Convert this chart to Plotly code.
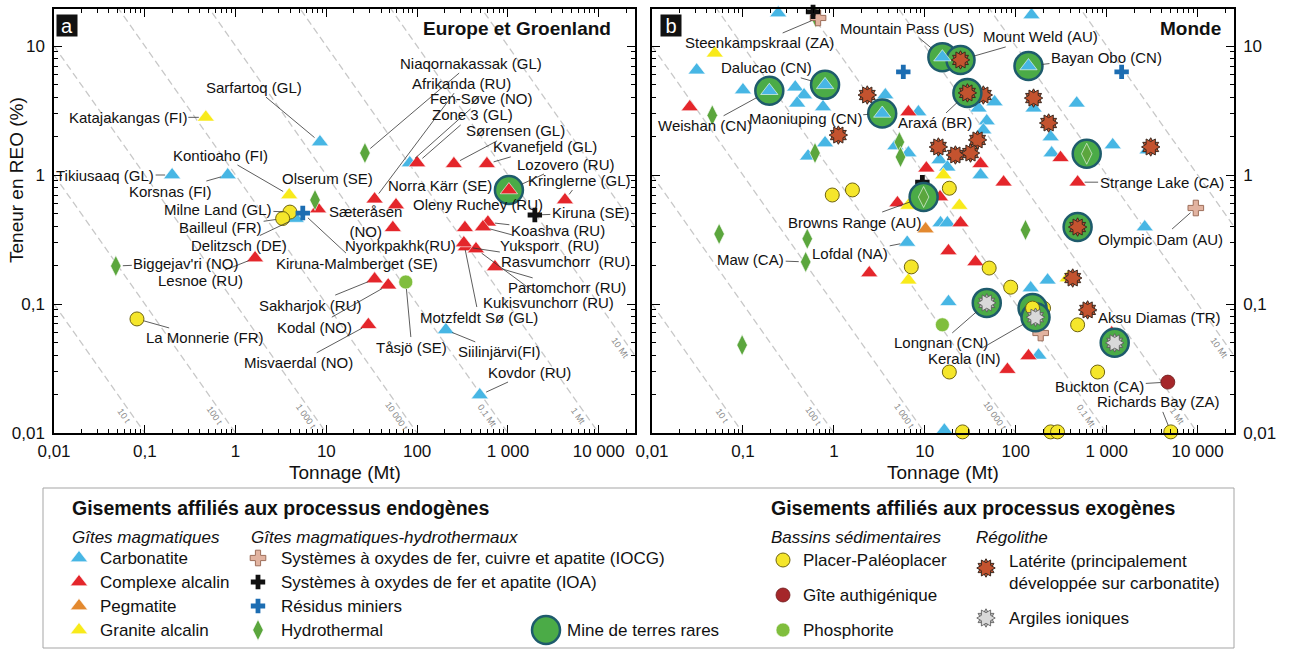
import numpy as np
import plotly.graph_objects as go

W, H = 1291, 649
FONT = 'Arial, "Liberation Sans", sans-serif'

# ---------------- Europe et Groenland (panel a) ----------------
eu_name = [
    # carbonatite
    'Sarfartoq (GL)', 'Tikiusaaq (GL)', 'Korsnas (FI)', 'Delitzsch (DE)', 'Fen-Søve (NO)',
    'Siilinjärvi(FI)', 'Kovdor (RU)',
    # complexe alcalin
    'Sæteråsen<br>(NO)', 'Afrikanda (RU)', 'Zone 3 (GL)', 'Sørensen (GL)', 'Kvanefjeld (GL)',
    'Kringlerne (GL)', 'Norra Kärr (SE)', 'Nyorkpakhk(RU)', 'Oleny Ruchey (RU)', 'Koashva (RU)',
    'Yuksporr  (RU)', 'Rasvumchorr  (RU)', 'Motzfeldt Sø (GL)', 'Kukisvunchorr (RU)',
    'Partomchorr (RU)', 'Sakharjok (RU)', 'Kodal (NO)', 'Misvaerdal (NO)', 'Lesnoe (RU)',
    # granite alcalin
    'Katajakangas (FI)', 'Kontioaho (FI)',
    # IOA, residus
    'Kiruna (SE)', 'Kiruna-Malmberget (SE)',
    # hydrothermal
    'Olserum (SE)', 'Niaqornakassak (GL)', "Biggejav'ri (NO)",
    # placer, phosphorite
    'Milne Land (GL)', 'Bailleul (FR)', 'La Monnerie (FR)', 'Tåsjö (SE)',
]
eu_tonnage = [
    8.5, 0.2, 0.82, 4.6, 83, 207, 490,
    8.1, 34, 100, 254, 587, 4250, 58.5, 54, 336, 602, 531, 344, 327, 445, 720, 34, 48, 29, 1.64,
    0.47, 3.9,
    1980, 5.5,
    7.5, 26.6, 0.048,
    3.97, 3.3, 0.082, 75,
]
eu_grade = [
    1.8, 1.0, 1.0, 0.46, 1.24, 0.063, 0.0197,
    0.545, 0.65, 1.24, 1.22, 1.22, 0.64, 0.585, 0.39, 0.39, 0.43, 0.395, 0.277, 0.297, 0.267,
    0.194, 0.156, 0.14, 0.069, 0.227,
    2.8, 0.70,
    0.49, 0.507,
    0.64, 1.48, 0.197,
    0.516, 0.46, 0.0766, 0.148,
]
eu_kind = (['carb'] * 7 + ['alk'] * 19 + ['gran'] * 2 + ['ioa', 'tail'] + ['hydro'] * 3
           + ['placer'] * 3 + ['phos'])

eu_mine_name = ['Lozovero (RU)']
eu_mine_tonnage = [1026]
eu_mine_grade = [0.765]
eu_mine_kind = ['alk']

# ---------------- Monde (panel b) ----------------
w_tonnage = [
    # carbonatite (36)
    0.244, 149, 0.031, 0.10, 0.376, 0.47, 0.395, 0.76, 3.68, 8.5,
    0.80, 0.52, 6.6, 4.74, 58.5, 39, 48, 44, 14.5, 17.7,
    41, 157, 468, 242, 248, 1165, 2820, 14.9, 17.7, 6.4,
    18.2, 2620, 146, 224, 178, 16.4,
    # complexe alcalin (16)
    0.026, 6.6, 10.4, 41, 73.5, 311, 479, 14.7, 5.0, 24.7, 18.2, 36, 2.45, 138, 81, 1135,
    # pegmatite (1)
    10.2,
    # granite alcalin (6)
    0.049, 16, 6.6, 24, 6.6, 372,
    # IOCG (3), IOA (2), residus (2)
    0.67, 9550, 188,
    0.59, 9.4,
    5.8, 1460,
    # hydrothermal (10)
    0.046, 0.62, 5.25, 5.4, 0.0547, 0.51, 0.49, 0.098, 128, 0.63,
    # placer (14)
    0.96, 1.6, 18.6, 7.1, 18.6, 26, 51, 88, 202, 479, 795, 5070, 242, 288,
    # authigenique (1), phosphorite (1)
    4700,
    15.6,
    # laterite (12)
    2.33, 1.12, 44, 157, 230, 38, 14.1, 21.7, 31.8, 3050, 423, 617,
]
w_grade = [
    18.0, 17.4, 6.5, 4.56, 4.8, 4.17, 3.6, 3.37, 4.17, 3.08,
    1.77, 1.40, 1.48, 1.68, 3.68, 3.3, 2.62, 2.23, 1.31, 1.15,
    1.0, 3.3, 3.6, 1.97, 1.48, 1.71, 1.56, 0.425, 0.425, 0.30,
    0.104, 0.395, 0.133, 0.153, 0.040, 0.0105,
    3.37, 3.08, 1.13, 1.22, 0.88, 1.36, 0.88, 0.675, 0.607, 0.425, 0.258, 0.212, 0.174, 0.0396,
    0.031, 0.0596,
    0.381,
    8.8, 1.0, 0.58, 0.58, 0.153, 0.159,
    16.5, 0.555, 0.0596,
    18.4, 0.88,
    6.3, 6.3,
    2.9, 1.48, 1.8, 1.38, 0.349, 0.32, 0.212, 0.048, 0.375, 16.8,
    0.70, 0.766, 0.79, 0.194, 0.0297, 0.0102, 0.19, 0.135, 0.093, 0.069, 0.0297, 0.0102, 0.0102,
    0.0102,
    0.0248,
    0.069,
    4.17, 2.04, 4.17, 3.95, 2.53, 1.87, 1.65, 1.43, 1.48, 1.65, 0.159, 0.09,
]
w_kind = (['carb'] * 36 + ['alk'] * 16 + ['peg'] + ['gran'] * 6 + ['iocg'] * 3 + ['ioa'] * 2
          + ['tail'] * 2 + ['hydro'] * 10 + ['placer'] * 14 + ['auth'] + ['phos'] + ['lat'] * 12)
w_name = ([''] * 29 + ['Lofdal (NA)'] + [''] * 6
          + [''] * 6 + ['Strange Lake (CA)'] + [''] * 9
          + [''] + [''] * 6
          + ['Steenkampskraal (ZA)', 'Olympic Dam (AU)', ''] + [''] * 2 + [''] * 2
          + [''] * 6 + ['Maw (CA)'] + [''] * 3
          + [''] * 11 + ['Richards Bay (ZA)'] + [''] * 2
          + ['Buckton (CA)'] + ['']
          + [''] * 11 + ['Aksu Diamas (TR)'])

w_mine_name = ['Weishan (CN)', 'Dalucao (CN)', 'Maoniuping (CN)', 'Mountain Pass (US)',
               'Bayan Obo (CN)', 'Mount Weld (AU)', 'Araxá (BR)', '', 'Browns Range (AU)', '',
               '', 'Longnan (CN)', 'Kerala (IN)', '']
w_mine_tonnage = [0.195, 0.80, 3.4, 15.6, 138, 24.7, 29.4, 479, 9.7, 603, 153, 48, 165, 1225]
w_mine_grade = [4.5, 5.0, 3.0, 8.2, 7.0, 7.8, 4.33, 0.395, 0.675, 1.46, 0.093, 0.102, 0.079, 0.05]
w_mine_kind = ['carb'] * 5 + ['lat'] * 3 + ['hydro'] * 2 + ['placer'] + ['clay'] * 3

# iso-content lines (contained REO, t)
iso_content = [10, 100, 1e3, 1e4, 1e5, 1e6, 1e7, 1e8]
iso_text = ['10 t', '100 t', '1 000 t', '10 000 t', '0,1 Mt', '1 Mt', '10 Mt', '']

x_ticks = [0.01, 0.1, 1, 10, 100, 1000, 10000]
x_ticktext = ['0,01', '0,1', '1', '10', '100', '1 000', '10 000']
y_ticks = [0.01, 0.1, 1, 10]
y_ticktext = ['0,01', '0,1', '1', '10']

assert len(w_tonnage) == len(w_grade) == len(w_kind) == len(w_name)
assert len(eu_tonnage) == len(eu_grade) == len(eu_kind) == len(eu_name)

# ---------------- styles ----------------
TRI = dict(symbol='triangle-up', size=15, line=dict(width=0.6, color='white'))
STYLE = {
    'carb': [dict(TRI, color='#47b6e4')],
    'alk': [dict(TRI, color='#e4262b')],
    'peg': [dict(TRI, color='#e3892f')],
    'gran': [dict(TRI, color='#f8ea1a')],
    'hydro': [dict(symbol='diamond-tall', size=15, color='#5ba63d', line=dict(width=0.6, color='white'))],
    'placer': [dict(symbol='circle', size=14, color='#f5e62b', line=dict(width=1, color='#6f6410'))],
    'auth': [dict(symbol='circle', size=14, color='#a5272a', line=dict(width=0.8, color='#6d1a1c'))],
    'phos': [dict(symbol='circle', size=14, color='#80be3d', line=dict(width=0.6, color='white'))],
    'lat': [dict(symbol='hexagram', size=14, angle=0, color='#c4532f', line=dict(width=1, color='#3b2a20')),
            dict(symbol='hexagram', size=14, angle=30, color='#c4532f', line=dict(width=1, color='#3b2a20'))],
    'clay': [dict(symbol='hexagram', size=14, angle=0, color='#b9b9b9', line=dict(width=0.8, color='#555555')),
             dict(symbol='hexagram', size=14, angle=30, color='#d9d9d9', line=dict(width=0.8, color='#555555'))],
    'iocg': [dict(symbol='cross', size=13, color='#e2b3a0', line=dict(width=1, color='#9d6e5a'))],
    'ioa': [dict(symbol='cross', size=12, color='#111111', line=dict(width=0))],
    'tail': [dict(symbol='cross', size=12, color='#1c6db2', line=dict(width=0))],
}
ORDER = ['carb', 'alk', 'peg', 'gran', 'hydro', 'placer', 'auth', 'phos', 'lat', 'clay',
         'iocg', 'ioa', 'tail']
MINE = dict(symbol='circle', size=28, color='#4bab47', line=dict(width=2.5, color='#1e5b6c'))

# label offsets: text centre relative to point (px), arrow flag
eu_offset = {
    'Katajakangas (FI)': (-78, 0, True), 'Sarfartoq (GL)': (-66, -55, True),
    'Tikiusaaq (GL)': (-67, 0, True), 'Kontioaho (FI)': (-69, -40, True),
    'Korsnas (FI)': (-57, 16, True), 'Olserum (SE)': (12, -22, False),
    'Sæteråsen<br>(NO)': (47, 12, False), 'Milne Land (GL)': (-72, -3, True),
    'Bailleul (FR)': (-62, 9, True), 'Delitzsch (DE)': (-57, 27, True),
    'Kiruna-Malmberget (SE)': (54, 50, True), 'Niaqornakassak (GL)': (106, -90, True),
    'Afrikanda (RU)': (87, -116, True), 'Fen-Søve (NO)': (72, -64, True),
    'Zone 3 (GL)': (55, -48, True), 'Sørensen (GL)': (62, -33, True),
    'Kvanefjeld (GL)': (58, -17, True), 'Lozovero (RU)': (57, -26, True),
    'Kringlerne (GL)': (15, -20, True), 'Norra Kärr (SE)': (44, -20, False),
    'Nyorkpakhk(RU)': (8, 18, False), 'Oleny Ruchey (RU)': (13, -23, False),
    'Koashva (RU)': (70, 8, True), 'Yuksporr  (RU)': (67, 18, True),
    'Rasvumchorr  (RU)': (100, 15, True), 'Motzfeldt Sø (GL)': (15, 74, True),
    'Kukisvunchorr (RU)': (73, 54, True), 'Partomchorr (RU)': (72, 21, True),
    'Kiruna (SE)': (56, -2, True), 'Sakharjok (RU)': (-64, 26, True),
    'Kodal (NO)': (-74, 42, True), 'Misvaerdal (NO)': (-70, 38, True),
    'Tåsjö (SE)': (6, 65, True), 'Siilinjärvi(FI)': (54, 22, True),
    'Kovdor (RU)': (50, -23, True), 'Lesnoe (RU)': (-55, 22, True),
    "Biggejav'ri (NO)": (70, -3, True), 'La Monnerie (FR)': (68, 19, True),
}
w_offset = {
    'Steenkampskraal (ZA)': (-59, 25, True), 'Mountain Pass (US)': (-35, -29, True),
    'Mount Weld (AU)': (80, -23, True), 'Bayan Obo (CN)': (78, -9, True),
    'Dalucao (CN)': (-59, -17, True), 'Weishan (CN)': (-64, 35, True),
    'Maoniuping (CN)': (-77, 5, True), 'Araxá (BR)': (-32, 30, True),
    'Browns Range (AU)': (-69, 25, True), 'Maw (CA)': (-55, -2, True),
    'Lofdal (NA)': (-57, 11, True), 'Longnan (CN)': (-46, 40, True),
    'Kerala (IN)': (-71, 41, True), 'Strange Lake (CA)': (84, 0, True),
    'Olympic Dam (AU)': (-35, 31, True), 'Aksu Diamas (TR)': (72, 8, True),
    'Buckton (CA)': (-68, 4, True), 'Richards Bay (ZA)': (-12, -30, True),
}


def px(x):
    return x / W


def py(y):
    return 1 - y / H


fig = go.Figure()


def add_iso_lines(xa, ya):
    t_end = np.array([1e-2, 10 ** 4.4])
    for c in iso_content:
        fig.add_trace(go.Scatter(
            x=t_end, y=c / (t_end * 1e4), mode='lines', xaxis=xa, yaxis=ya,
            line=dict(color='#c8c8c8', width=1.3, dash='7px,4px'),
            hoverinfo='skip', showlegend=False))
    for c, txt in zip(iso_content, iso_text):
        if not txt:
            continue
        g = 0.046 if c == 1e7 else 0.0135
        fig.add_annotation(
            x=np.log10(c / (g * 1e4)), y=np.log10(g), xref=xa, yref=ya, text=txt,
            showarrow=False, textangle=55, xshift=-9,
            font=dict(family=FONT, size=9, color='#8a8a8a'))


def add_points(tonnage, grade, kind, xa, ya, mine=False):
    t = np.array(tonnage, dtype=float)
    g = np.array(grade, dtype=float)
    k = np.array(kind)
    if mine:
        fig.add_trace(go.Scatter(x=t, y=g, mode='markers', marker=MINE, xaxis=xa, yaxis=ya,
                                 cliponaxis=False, hoverinfo='skip', showlegend=False))
    for kk in ORDER:
        sel = k == kk
        if not sel.any():
            continue
        for st in STYLE[kk]:
            fig.add_trace(go.Scatter(x=t[sel], y=g[sel], mode='markers', marker=st,
                                     xaxis=xa, yaxis=ya, cliponaxis=False,
                                     hoverinfo='skip', showlegend=False))


def add_labels(names, tonnage, grade, offsets, xa, ya, mine=False):
    for n, t, g in zip(names, tonnage, grade):
        if not n:
            continue
        dx, dy, arrow = offsets[n]
        common = dict(x=np.log10(t), y=np.log10(g), xref=xa, yref=ya, text=n,
                      xanchor='center', yanchor='middle',
                      font=dict(family=FONT, size=15, color='#111111'))
        if arrow:
            fig.add_annotation(**common, showarrow=True, ax=dx, ay=dy, arrowhead=0,
                               arrowwidth=0.8, arrowcolor='#333333',
                               standoff=14 if mine else 7)
        else:
            fig.add_annotation(**common, showarrow=False, xshift=dx, yshift=-dy)


# panel a
add_iso_lines('x', 'y')
add_points(eu_tonnage, eu_grade, eu_kind, 'x', 'y')
add_points(eu_mine_tonnage, eu_mine_grade, eu_mine_kind, 'x', 'y', mine=True)
add_labels(eu_name, eu_tonnage, eu_grade, eu_offset, 'x', 'y')
add_labels(eu_mine_name, eu_mine_tonnage, eu_mine_grade, eu_offset, 'x', 'y', mine=True)

# panel b
add_iso_lines('x2', 'y2')
add_points(w_tonnage, w_grade, w_kind, 'x2', 'y2')
add_points(w_mine_tonnage, w_mine_grade, w_mine_kind, 'x2', 'y2', mine=True)
add_labels(w_name, w_tonnage, w_grade, w_offset, 'x2', 'y2')
add_labels(w_mine_name, w_mine_tonnage, w_mine_grade, w_offset, 'x2', 'y2', mine=True)

minor_x = [m * 10.0 ** e for e in range(-2, 5) for m in range(2, 10) if m * 10.0 ** e < 10 ** 4.4]
minor_y = [m * 10.0 ** e for e in range(-2, 2) for m in range(2, 10) if m * 10.0 ** e < 19.3]

axis_common = dict(type='log', showgrid=False, zeroline=False, showline=True,
                   linecolor='black', linewidth=1.5, mirror='ticks', ticks='inside',
                   ticklen=8, tickwidth=1.3, tickcolor='black', automargin=False,
                   tickfont=dict(family=FONT, size=17, color='#111111'),
                   fixedrange=True)
xaxis_common = dict(axis_common, range=[-2, 4.4], tickmode='array', tickvals=x_ticks,
                    ticktext=x_ticktext, ticklabelstandoff=2,
                    minor=dict(tickvals=minor_x, ticks='inside', ticklen=4, tickwidth=1,
                               tickcolor='black', showgrid=False))
yaxis_common = dict(axis_common, range=[-2, 1.287], tickmode='array', tickvals=y_ticks,
                    ticktext=y_ticktext, ticklabelstandoff=4,
                    minor=dict(tickvals=minor_y, ticks='inside', ticklen=4, tickwidth=1,
                               tickcolor='black', showgrid=False))

fig.update_layout(
    width=W, height=H,
    margin=dict(l=0, r=0, t=0, b=0, pad=0, autoexpand=False),
    paper_bgcolor='white', plot_bgcolor='rgba(0,0,0,0)',
    showlegend=False,
    font=dict(family=FONT),
    xaxis=dict(xaxis_common, domain=[px(54), px(635)], anchor='y'),
    yaxis=dict(yaxis_common, domain=[py(433), py(9)], anchor='x'),
    xaxis2=dict(xaxis_common, domain=[px(652), px(1234)], anchor='y2'),
    yaxis2=dict(yaxis_common, domain=[py(433), py(9)], anchor='x2', side='right'),
    xaxis3=dict(domain=[px(43), px(1234)], range=[43, 1234], visible=False, anchor='y3',
                fixedrange=True),
    yaxis3=dict(domain=[py(648), py(488)], range=[648, 488], visible=False, anchor='x3',
                fixedrange=True),
)


def paper_text(x, y, text, font, **kw):
    opts = dict(xanchor='center', yanchor='middle')
    opts.update(kw)
    fig.add_annotation(x=px(x), y=py(y), xref='paper', yref='paper', text=text,
                       showarrow=False, font=font, **opts)


# axis titles, panel titles
title_font = dict(family=FONT, size=19, color='#111111')
paper_text(345, 473, 'Tonnage (Mt)', title_font)
paper_text(943, 473, 'Tonnage (Mt)', title_font)
paper_text(17, 180, 'Teneur en REO (%)', title_font, textangle=-90)
paper_text(613, 28, '<b>Europe et Groenland</b>', dict(family=FONT, size=19, color='#111111'),
           xanchor='right')
paper_text(1223, 28, '<b>Monde</b>', dict(family=FONT, size=19, color='#111111'),
           xanchor='right')
for lab, cx in (('a', 67), ('b', 671)):
    paper_text(cx, 25, lab, dict(family=FONT, size=20, color='white'),
               bgcolor='#111111', width=20, height=21, borderpad=0)

# ---------------- legend ----------------
fig.add_shape(type='rect', xref='paper', yref='paper', x0=px(43), x1=px(1234),
              y0=py(648), y1=py(488), line=dict(color='#a5a5a5', width=1))

leg_font = dict(family=FONT, size=17, color='#111111')
head_font = dict(family=FONT, size=19.5, color='#111111')


def leg_text(x, y, text, font=leg_font):
    fig.add_annotation(x=x, y=y, xref='x3', yref='y3', text=text, showarrow=False,
                       xanchor='left', yanchor='middle', align='left', font=font)


def leg_marker(x, y, kind):
    if kind == 'mine':
        styles = [MINE]
    else:
        styles = STYLE[kind]
    for st in styles:
        fig.add_trace(go.Scatter(x=[x], y=[y], mode='markers', marker=st, xaxis='x3',
                                 yaxis='y3', cliponaxis=False, hoverinfo='skip',
                                 showlegend=False))


leg_text(70, 508, '<b>Gisements affiliés aux processus endogènes</b>', head_font)
leg_text(769, 508, '<b>Gisements affiliés aux processus exogènes</b>', head_font)
leg_text(70, 537, '<i>Gîtes magmatiques</i>')
leg_text(249, 537, '<i>Gîtes magmatiques-hydrothermaux</i>')
leg_text(769, 537, '<i>Bassins sédimentaires</i>')
leg_text(974, 537, '<i>Régolithe</i>')

col1 = [('carb', 'Carbonatite'), ('alk', 'Complexe alcalin'), ('peg', 'Pegmatite'),
        ('gran', 'Granite alcalin')]
col2 = [('iocg', 'Systèmes à oxydes de fer, cuivre et apatite (IOCG)'),
        ('ioa', 'Systèmes à oxydes de fer et apatite (IOA)'),
        ('tail', 'Résidus miniers'), ('hydro', 'Hydrothermal')]
rows = [558, 582, 606, 630]
for (k, t), y in zip(col1, rows):
    leg_marker(79, y, k)
    leg_text(98, y, t)
for (k, t), y in zip(col2, rows):
    leg_marker(258, y, k)
    leg_text(279, y, t)
leg_marker(546, 630, 'mine')
leg_text(565, 630, 'Mine de terres rares')
for (k, t), y in zip([('placer', 'Placer-Paléoplacer'), ('auth', 'Gîte authigénique'),
                      ('phos', 'Phosphorite')], [560, 595, 630]):
    leg_marker(783, y, k)
    leg_text(801, y, t)
leg_marker(986, 568, 'lat')
leg_text(1007, 572, 'Latérite (principalement<br>développée sur carbonatite)')
leg_marker(986, 618, 'clay')
leg_text(1007, 618, 'Argiles ioniques')

fig.write_html('out.html', config={'displayModeBar': False},
               post_script="document.body.style.margin='0';")
